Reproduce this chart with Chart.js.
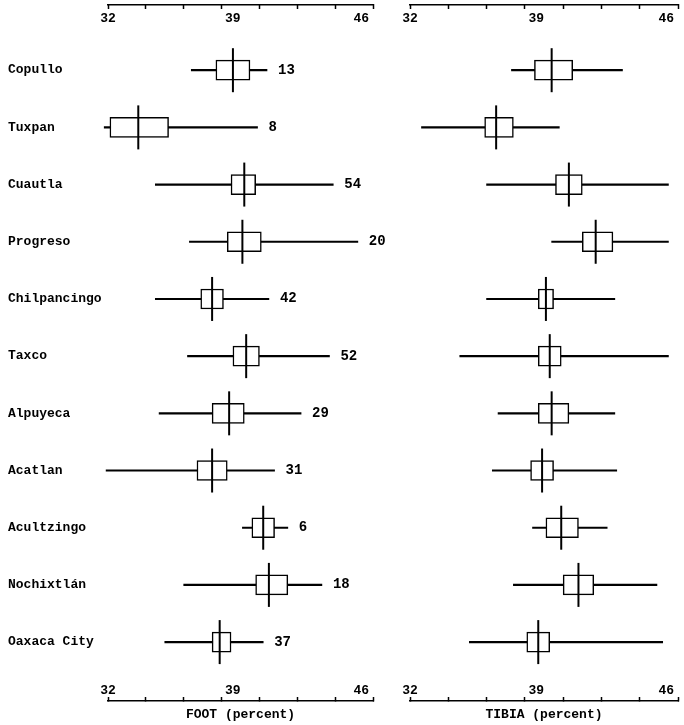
<!DOCTYPE html>
<html>
<head>
<meta charset="utf-8">
<script src="https://cdn.jsdelivr.net/npm/chart.js@4"></script>
<style>
	html, body { margin: 0; padding: 0; background: #fff; }
	#wrap { position: relative; width: 684px; height: 725px; }
	#footChart { position: absolute; left: 0; top: 0; }
	#tibiaChart { position: absolute; left: 390px; top: 0; }
</style>
</head>
<body>
<div id="wrap">
	<canvas id="footChart" width="390" height="725"></canvas>
	<canvas id="tibiaChart" width="294" height="725"></canvas>
</div>
<script>
// Localities, top to bottom
const localities = ['Copullo', 'Tuxpan', 'Cuautla', 'Progreso', 'Chilpancingo', 'Taxco',
	'Alpuyeca', 'Acatlan', 'Acultzingo', 'Nochixtlán', 'Oaxaca City'];
const sampleSizes = [13, 8, 54, 20, 42, 52, 29, 31, 6, 18, 37];

// Foot (percent): range, box and mean
const footMin = [36.4, 31.8, 34.5, 36.3, 34.5, 36.2, 34.7, 31.9, 39.1, 36.0, 35.0];
const footMax = [40.4, 39.9, 43.9, 45.2, 40.5, 43.7, 42.2, 40.8, 41.5, 43.3, 40.2];
const footBoxLo = [37.7, 32.1, 38.5, 38.3, 36.9, 38.6, 37.5, 36.7, 39.6, 39.8, 37.5];
const footBoxHi = [39.5, 35.2, 39.8, 40.1, 38.1, 40.0, 39.2, 38.3, 40.8, 41.5, 38.5];
const footMean = [38.6, 33.6, 39.2, 39.1, 37.5, 39.3, 38.4, 37.5, 40.2, 40.5, 37.9];

// Tibia (percent)
const tibiaMin = [37.3, 32.6, 36.0, 39.4, 36.0, 34.6, 36.6, 36.3, 38.4, 37.4, 35.1];
const tibiaMax = [43.1, 39.8, 45.5, 45.5, 42.7, 45.5, 42.7, 42.8, 42.3, 44.9, 45.2];
const tibiaBoxLo = [38.5, 35.9, 39.6, 41.0, 38.7, 38.7, 38.7, 38.3, 39.1, 40.0, 38.1];
const tibiaBoxHi = [40.5, 37.4, 41.0, 42.6, 39.5, 39.9, 40.3, 39.5, 40.8, 41.6, 39.3];
const tibiaMean = [39.4, 36.5, 40.3, 41.7, 39.1, 39.3, 39.4, 38.9, 39.9, 40.8, 38.7];

// Axis ticks
const axisTicks = [32, 34, 36, 38, 39, 40, 42, 44, 46];
const axisLabels = [32, 39, 46];

const FONT = "'Liberation Mono', 'Courier New', monospace";
const rowIndex = localities.map((_, i) => i);

function buildDatasets(min, max, boxLo, boxHi, mean) {
	return [{
		type: 'line',
		label: 'Mean',
		data: mean.map((v, i) => ({ x: v, y: i })),
		showLine: false,
		pointStyle: 'line',
		pointRotation: 90,
		pointRadius: 22,
		pointBorderWidth: 2,
		pointBorderColor: '#000',
		order: 0,
		clip: false
	}, {
		type: 'bar',
		label: 'Box',
		data: boxLo.map((v, i) => ({ x: [v, boxHi[i]], y: i })),
		backgroundColor: '#fff',
		borderColor: '#000',
		borderWidth: 1.5,
		borderSkipped: false,
		barThickness: 20,
		grouped: false,
		order: 1,
		clip: false
	}, {
		type: 'bar',
		label: 'Range',
		data: min.map((v, i) => ({ x: [v, max[i]], y: i })),
		backgroundColor: '#000',
		borderWidth: 0,
		barThickness: 1.5,
		grouped: false,
		order: 2,
		clip: false
	}];
}

// the printed 39 and 46 sit a little left of their tick
function tickLabel(v) {
	if (!axisLabels.includes(v)) return '';
	if (v === 46) return '46   ';
	if (v === 39) return '39  ';
	return String(v);
}

function xScale(position, title) {
	return {
		type: 'linear',
		axis: 'x',
		position: position,
		min: 32,
		max: 46,
		offset: false,
		afterBuildTicks: axis => { axis.ticks = axisTicks.map(v => ({ value: v })); },
		afterFit: axis => {
			axis.height = title ? 24 : 0;
			axis.paddingLeft = 0;
			axis.paddingRight = 0;
		},
		grid: {
			display: true,
			offset: false,
			drawOnChartArea: false,
			drawTicks: true,
			tickLength: -4,
			tickWidth: 1.5,
			tickColor: ctx => (ctx.tick && ctx.tick.value === 39) ? 'rgba(0,0,0,0)' : '#000'
		},
		border: { display: true, color: '#000', width: 1.5 },
		ticks: {
			mirror: true,
			padding: position === 'top' ? 6 : 2,
			autoSkip: false,
			maxRotation: 0,
			color: '#000',
			font: { family: FONT, size: 13, weight: 'bold' },
			callback: tickLabel
		},
		title: {
			display: !!title,
			text: title || '',
			color: '#000',
			font: { family: FONT, size: 13, weight: 'bold' },
			padding: { top: 0, bottom: 2 }
		}
	};
}

function yScale(showNames) {
	return {
		type: 'linear',
		axis: 'y',
		reverse: true,
		min: -1.14,
		max: 11.03,
		offset: false,
		display: showNames,
		afterBuildTicks: axis => { axis.ticks = rowIndex.map(v => ({ value: v })); },
		afterFit: axis => {
			axis.width = showNames ? 100 : 0;
			axis.paddingTop = 0;
			axis.paddingBottom = 0;
		},
		grid: { display: false, offset: false },
		border: { display: false },
		ticks: {
			crossAlign: 'far',
			autoSkip: false,
			color: '#000',
			font: { family: FONT, size: 13, weight: 'bold' },
			callback: v => localities[v] || ''
		}
	};
}

// Sample size next to each foot range
const sampleSizeLabels = {
	id: 'sampleSizeLabels',
	afterDatasetsDraw(chart) {
		const { ctx, scales: { x, y } } = chart;
		ctx.save();
		ctx.fillStyle = '#000';
		ctx.font = 'bold 14px ' + FONT;
		ctx.textBaseline = 'middle';
		sampleSizes.forEach((n, i) => {
			ctx.fillText(String(n), x.getPixelForValue(footMax[i]) + 11, y.getPixelForValue(i));
		});
		ctx.restore();
	}
};

function makeChart(id, datasets, title, showNames, padding, plugins) {
	return new Chart(document.getElementById(id), {
		type: 'bar',
		data: { datasets: datasets },
		options: {
			indexAxis: 'y',
			responsive: false,
			animation: false,
			events: [],
			layout: { padding: padding, autoPadding: false },
			plugins: {
				legend: { display: false },
				tooltip: { enabled: false }
			},
			scales: {
				x: xScale('bottom', title),
				x2: xScale('top', null),
				y: yScale(showNames)
			}
		},
		plugins: plugins || []
	});
}

makeChart('footChart', buildDatasets(footMin, footMax, footBoxLo, footBoxHi, footMean),
	'FOOT (percent)', true, { left: 8, right: 17, top: 5, bottom: 0 }, [sampleSizeLabels]);
makeChart('tibiaChart', buildDatasets(tibiaMin, tibiaMax, tibiaBoxLo, tibiaBoxHi, tibiaMean),
	'TIBIA (percent)', false, { left: 20, right: 6, top: 5, bottom: 0 });
</script>
</body>
</html>
